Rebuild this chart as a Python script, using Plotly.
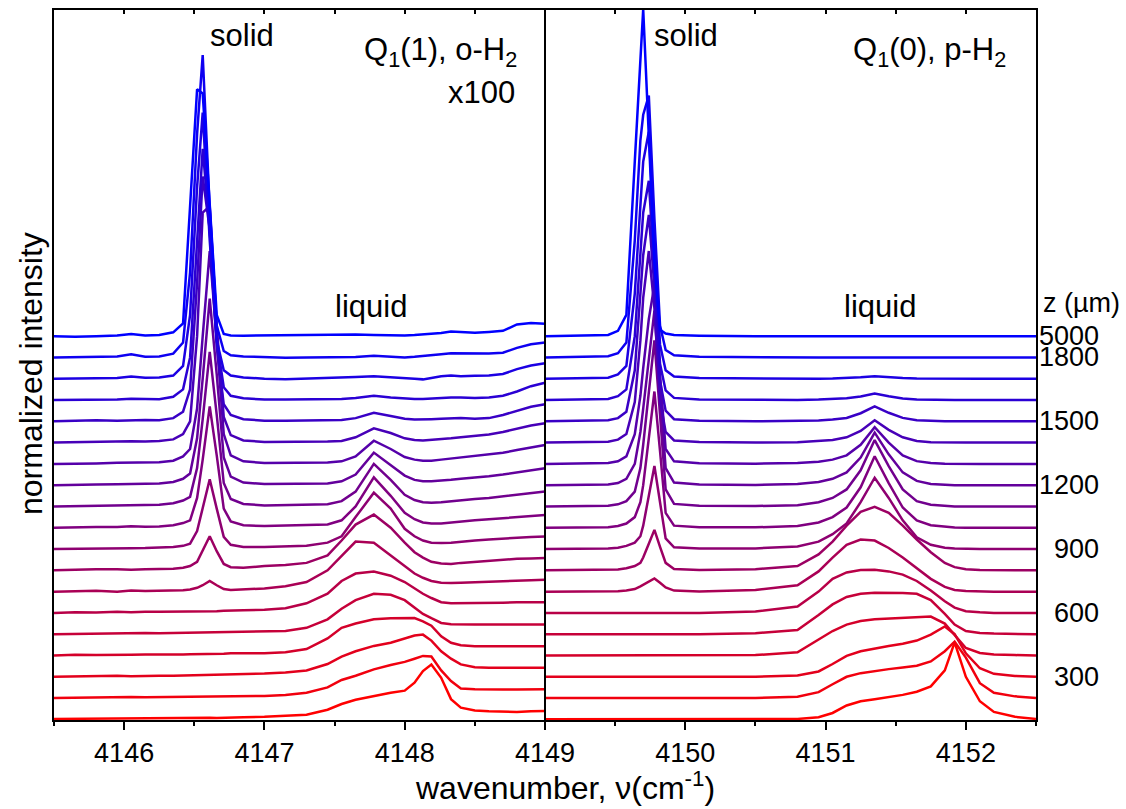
import plotly.graph_objects as go

# ---------------- data ----------------
Z_UM = [100, 200, 300, 400, 500, 600, 700, 800, 900, 1000, 1100, 1200,
        1300, 1400, 1500, 1600, 1700, 1800, 5000]
Z_LABELS = ["300", "600", "900", "1200", "1500", "1800", "5000"]
Z_LABEL_TRACE = [2, 5, 8, 11, 14, 17, 18]

# Q1(1) panel wavenumber grid (cm-1)
X_LEFT = [4145.50, 4145.65, 4145.80, 4145.95, 4146.05, 4146.15, 4146.25,
          4146.35, 4146.42, 4146.47, 4146.52, 4146.56, 4146.61, 4146.66, 4146.71, 4146.76, 4146.85,
          4147.00, 4147.15, 4147.30, 4147.45, 4147.55, 4147.65, 4147.78, 4147.90, 4148.00,
          4148.07, 4148.13, 4148.19, 4148.26, 4148.33, 4148.40, 4148.50, 4148.60, 4148.70,
          4148.80, 4148.90, 4149.00]
# Q1(0) panel wavenumber grid (cm-1)
X_RIGHT = [4149.00, 4149.45, 4149.52, 4149.58, 4149.64, 4149.68, 4149.70, 4149.74, 4149.78,
           4149.82, 4149.86, 4149.92, 4150.10,
           4150.50, 4150.80, 4150.95, 4151.05, 4151.15, 4151.25, 4151.35, 4151.45, 4151.55,
           4151.65, 4151.75, 4151.85, 4151.92, 4152.00, 4152.10, 4152.20, 4152.35, 4152.50]

# normalized intensity (in units of the vertical trace spacing), one list per depth z
L100 = [0.02, 0.03, 0.03, 0.04, 0.05, 0.05, 0.05, 0.05, 0.05, 0.06, 0.06, 0.07, 0.07, 0.06, 0.08, 0.08, 0.1,
        0.12, 0.16, 0.22, 0.45, 0.72, 0.92, 1.1, 1.25, 1.35, 1.72, 2.27, 2.58, 1.95, 0.95, 0.55, 0.42, 0.38, 0.35, 0.35, 0.38, 0.39]
L200 = [0.0, 0.02, 0.03, 0.03, 0.05, 0.04, 0.05, 0.05, 0.05, 0.05, 0.06, 0.06, 0.07, 0.07, 0.08, 0.08, 0.08,
        0.1, 0.15, 0.25, 0.5, 0.85, 1.05, 1.35, 1.55, 1.7, 1.85, 1.98, 1.95, 1.3, 0.8, 0.45, 0.42, 0.4, 0.4, 0.4, 0.41, 0.41]
L300 = [0.0, 0.02, 0.03, 0.05, 0.03, 0.05, 0.05, 0.05, 0.06, 0.06, 0.07, 0.07, 0.08, 0.08, 0.1, 0.1, 0.12,
        0.15, 0.2, 0.3, 0.6, 0.95, 1.2, 1.45, 1.6, 1.8, 1.94, 1.98, 1.7, 1.2, 0.85, 0.58, 0.45, 0.42, 0.42, 0.42, 0.42, 0.42]
L400 = [0.0, 0.03, 0.02, 0.05, 0.04, 0.05, 0.04, 0.05, 0.05, 0.06, 0.06, 0.07, 0.07, 0.08, 0.08, 0.1, 0.1,
        0.1, 0.15, 0.3, 0.8, 1.3, 1.5, 1.7, 1.75, 1.76, 1.76, 1.6, 1.4, 0.9, 0.6, 0.48, 0.44, 0.44, 0.44, 0.44, 0.44, 0.44]
L500 = [0.0, 0.02, 0.04, 0.03, 0.05, 0.06, 0.05, 0.06, 0.05, 0.06, 0.07, 0.07, 0.08, 0.08, 0.09, 0.1, 0.1,
        0.1, 0.15, 0.3, 0.7, 1.2, 1.6, 1.9, 1.85, 1.6, 1.25, 0.95, 0.75, 0.53, 0.47, 0.45, 0.45, 0.45, 0.45, 0.45, 0.45, 0.45]
L600 = [0.0, 0.03, 0.02, 0.05, 0.03, 0.06, 0.05, 0.05, 0.06, 0.07, 0.08, 0.08, 0.08, 0.08, 0.1, 0.1, 0.12,
        0.15, 0.22, 0.45, 0.9, 1.5, 1.85, 1.94, 1.75, 1.45, 1.15, 0.9, 0.7, 0.5, 0.45, 0.45, 0.45, 0.47, 0.48, 0.5, 0.5, 0.5]
L700 = [0.0, 0.02, 0.04, 0.0, 0.05, 0.03, 0.04, 0.05, 0.06, 0.1, 0.18, 0.3, 0.5, 0.3, 0.12, 0.08, 0.1,
        0.15, 0.25, 0.45, 1.0, 1.7, 2.35, 2.3, 1.7, 1.2, 0.85, 0.65, 0.5, 0.42, 0.4, 0.42, 0.45, 0.48, 0.5, 0.52, 0.54, 0.56]
L800 = [0.0, 0.03, 0.05, 0.05, 0.03, 0.05, 0.06, 0.08, 0.12, 0.2, 0.4, 0.9, 1.6, 0.9, 0.3, 0.15, 0.12,
        0.2, 0.25, 0.35, 0.7, 1.4, 2.15, 2.62, 2.0, 1.3, 0.85, 0.6, 0.4, 0.32, 0.3, 0.35, 0.4, 0.45, 0.5, 0.54, 0.56, 0.58]
L900 = [0.0, 0.02, 0.04, 0.05, 0.04, 0.05, 0.07, 0.1, 0.15, 0.25, 0.84, 1.9, 3.28, 1.9, 0.57, 0.2, 0.1,
        0.1, 0.12, 0.15, 0.3, 0.6, 1.5, 2.65, 1.9, 0.95, 0.6, 0.4, 0.3, 0.28, 0.3, 0.35, 0.4, 0.45, 0.5, 0.54, 0.57, 0.59]
L1000 = [0.0, 0.0, 0.03, 0.04, 0.07, 0.05, 0.06, 0.12, 0.22, 0.35, 1.4, 3.2, 5.7, 3.4, 0.9, 0.3, 0.12,
         0.08, 0.1, 0.12, 0.15, 0.35, 1.0, 2.37, 1.5, 0.7, 0.4, 0.25, 0.2, 0.2, 0.25, 0.3, 0.35, 0.4, 0.45, 0.5, 0.55, 0.6]
L1100 = [0.0, 0.02, 0.03, 0.05, 0.06, 0.06, 0.08, 0.15, 0.28, 0.45, 1.8, 4.1, 7.26, 4.3, 1.1, 0.35, 0.12,
         0.05, 0.07, 0.1, 0.1, 0.25, 0.7, 2.0, 1.25, 0.55, 0.3, 0.2, 0.18, 0.2, 0.25, 0.3, 0.35, 0.4, 0.48, 0.55, 0.62, 0.7]
L1200 = [0.0, 0.0, 0.03, 0.04, 0.05, 0.06, 0.08, 0.15, 0.3, 0.55, 2.2, 5.0, 8.76, 5.2, 1.3, 0.4, 0.12,
         0.05, 0.05, 0.07, 0.08, 0.18, 0.5, 1.53, 0.95, 0.45, 0.25, 0.18, 0.18, 0.2, 0.25, 0.3, 0.35, 0.42, 0.5, 0.6, 0.7, 0.8]
L1300 = [0.0, 0.0, 0.02, 0.05, 0.06, 0.05, 0.08, 0.15, 0.35, 0.7, 2.6, 6.0, 10.0, 5.8, 1.4, 0.4, 0.12,
         0.04, 0.05, 0.06, 0.07, 0.12, 0.35, 1.09, 0.7, 0.32, 0.2, 0.15, 0.15, 0.2, 0.25, 0.3, 0.35, 0.42, 0.52, 0.65, 0.78, 0.89]
L1400 = [0.0, 0.02, 0.02, 0.04, 0.06, 0.05, 0.07, 0.15, 0.4, 1.0, 5.0, 10.8, 11.1, 5.5, 1.2, 0.35, 0.1,
         0.03, 0.03, 0.04, 0.05, 0.08, 0.25, 0.67, 0.45, 0.2, 0.12, 0.1, 0.12, 0.15, 0.2, 0.25, 0.3, 0.38, 0.5, 0.65, 0.8, 0.91]
L1500 = [0.0, 0.02, 0.05, 0.03, 0.06, 0.06, 0.05, 0.15, 0.45, 1.5, 6.5, 11.5, 9.0, 3.5, 0.8, 0.3, 0.1,
         0.03, 0.03, 0.04, 0.04, 0.06, 0.15, 0.4, 0.25, 0.12, 0.08, 0.08, 0.1, 0.12, 0.15, 0.15, 0.12, 0.15, 0.3, 0.5, 0.68, 0.8]
L1600 = [0.0, 0.0, 0.0, 0.03, 0.06, 0.04, 0.04, 0.15, 0.5, 2.0, 7.5, 11.8, 8.0, 2.8, 0.6, 0.2, 0.08,
         0.02, 0.02, 0.03, 0.03, 0.05, 0.1, 0.2, 0.12, 0.06, 0.05, 0.05, 0.08, 0.1, 0.12, 0.12, 0.1, 0.12, 0.2, 0.4, 0.65, 0.81]
L1700 = [0.0, 0.02, 0.03, 0.04, 0.1, 0.05, 0.06, 0.15, 0.6, 3.0, 9.0, 12.5, 6.5, 1.8, 0.4, 0.15, 0.06,
         0.0, -0.02, 0.0, 0.02, 0.05, 0.08, 0.12, 0.08, 0.05, 0.0, -0.03, 0.05, 0.12, 0.15, 0.12, 0.14, 0.15, 0.22, 0.45, 0.62, 0.73]
L1800 = [0.0, 0.02, 0.03, 0.05, 0.15, 0.03, 0.05, 0.18, 0.7, 4.0, 10.5, 14.2, 7.0, 1.5, 0.3, 0.1, 0.05,
         0.0, -0.02, 0.0, 0.02, 0.02, 0.02, 0.08, 0.02, 0.0, 0.03, 0.06, 0.1, 0.15, 0.2, 0.2, 0.18, 0.18, 0.22, 0.45, 0.62, 0.7]
L5000 = [0.0, -0.03, 0.0, 0.03, 0.1, 0.03, 0.05, 0.18, 0.6, 6.0, 11.6, 11.4, 6.0, 1.0, 0.1, 0.03, 0.02,
         0.03, 0.03, 0.03, 0.05, 0.05, 0.08, 0.05, 0.03, 0.03, 0.05, 0.08, 0.1, 0.15, 0.22, 0.2, 0.16, 0.2, 0.25, 0.55, 0.62, 0.58]

R100 = [0, 0, 0, 0, 0, 0, 0, 0, 0, 0, 0, 0, 0,
        0.0, 0.02, 0.1, 0.3, 0.65, 0.85, 0.95, 1.05, 1.15, 1.3, 1.55, 2.3, 3.62, 2.0, 0.85, 0.35, 0.12, 0.02]
R200 = [0, 0, 0, 0, 0, 0, 0, 0, 0, 0, 0, 0, 0,
        0.0, 0.06, 0.28, 0.65, 1.0, 1.17, 1.28, 1.36, 1.44, 1.52, 1.72, 2.2, 2.65, 1.9, 0.7, 0.25, 0.08, 0.0]
R300 = [0, 0, 0, 0, 0, 0, 0, 0, 0, 0, 0, 0, 0,
        0.0, 0.06, 0.25, 0.6, 0.98, 1.2, 1.33, 1.45, 1.55, 1.7, 1.98, 2.36, 2.0, 1.1, 0.4, 0.14, 0.04, 0.0]
R400 = [0, 0, 0, 0, 0, 0, 0, 0, 0, 0, 0, 0, 0,
        0.02, 0.15, 0.75, 1.15, 1.45, 1.62, 1.7, 1.74, 1.77, 1.8, 1.83, 1.5, 0.95, 0.35, 0.12, 0.05, 0.02, 0.0]
R500 = [0, 0, 0, 0, 0, 0, 0, 0, 0, 0, 0, 0, 0,
        0.05, 0.2, 0.9, 1.4, 1.75, 1.9, 1.95, 1.95, 1.93, 1.9, 1.6, 0.95, 0.45, 0.15, 0.06, 0.03, 0.0, 0.0]
R600 = [0, 0, 0, 0, 0, 0, 0, 0, 0, 0, 0, 0, 0,
        0.07, 0.3, 1.0, 1.6, 1.9, 2.02, 2.03, 1.95, 1.8, 1.5, 1.05, 0.55, 0.25, 0.08, 0.03, 0.0, 0.0, 0.0]
R700 = [0, 0.01, 0.02, 0.05, 0.12, 0.25, 0.32, 0.47, 0.62, 0.42, 0.2, 0.05, 0.01,
        0.08, 0.3, 0.95, 1.6, 2.2, 2.45, 2.4, 2.05, 1.6, 1.1, 0.6, 0.22, 0.08, 0.03, 0.0, 0.0, 0.0, 0.0]
R800 = [0, 0.01, 0.04, 0.1, 0.2, 0.35, 0.6, 1.25, 1.9, 1.1, 0.35, 0.06, 0.02,
        0.05, 0.2, 0.75, 1.35, 2.1, 2.75, 2.98, 2.7, 2.1, 1.45, 0.85, 0.35, 0.15, 0.05, 0.02, 0.0, 0.0, 0.0]
R900 = [0, 0.02, 0.06, 0.15, 0.3, 0.6, 1.1, 2.5, 3.9, 2.2, 0.5, 0.08, 0.02,
        0.03, 0.12, 0.35, 0.7, 1.2, 2.2, 3.35, 2.4, 1.35, 0.55, 0.2, 0.06, 0.02, 0, 0, 0, 0, 0]
R1000 = [0, 0.02, 0.08, 0.2, 0.5, 1.2, 2.0, 4.2, 6.4, 3.6, 0.7, 0.1, 0.02,
         0.02, 0.08, 0.25, 0.5, 0.95, 1.9, 3.36, 2.1, 0.95, 0.35, 0.12, 0.04, 0.01, 0, 0, 0, 0, 0]
R1100 = [0, 0.03, 0.1, 0.25, 0.7, 1.8, 2.9, 5.3, 7.8, 4.3, 0.8, 0.12, 0.03,
         0.02, 0.06, 0.2, 0.4, 0.8, 1.7, 3.12, 1.9, 0.8, 0.25, 0.08, 0.03, 0, 0, 0, 0, 0, 0]
R1200 = [0, 0.03, 0.1, 0.3, 1.0, 2.5, 3.6, 6.0, 8.2, 4.4, 0.8, 0.12, 0.03,
         0.01, 0.05, 0.15, 0.3, 0.6, 1.3, 2.47, 1.45, 0.6, 0.2, 0.06, 0.02, 0, 0, 0, 0, 0, 0]
R1300 = [0, 0.04, 0.12, 0.35, 1.4, 3.2, 4.5, 6.8, 8.4, 4.2, 0.7, 0.12, 0.03,
         0.01, 0.04, 0.1, 0.2, 0.4, 0.9, 1.72, 1.0, 0.4, 0.13, 0.04, 0.01, 0, 0, 0, 0, 0, 0]
R1400 = [0, 0.04, 0.14, 0.4, 1.9, 4.8, 6.8, 9.0, 6.3, 2.0, 0.5, 0.1, 0.03,
         0, 0.02, 0.06, 0.12, 0.25, 0.55, 1.05, 0.6, 0.25, 0.08, 0.02, 0, 0, 0, 0, 0, 0, 0]
R1500 = [0, 0.05, 0.15, 0.45, 2.4, 5.8, 7.8, 9.7, 6.3, 1.9, 0.5, 0.1, 0.03,
         0, 0.01, 0.04, 0.08, 0.16, 0.38, 0.7, 0.4, 0.16, 0.05, 0.01, 0, 0, 0, 0, 0, 0, 0]
R1600 = [0, 0.05, 0.18, 0.5, 3.0, 7.0, 8.8, 10.3, 6.2, 1.7, 0.45, 0.1, 0.03,
         0, 0, 0.02, 0.04, 0.08, 0.17, 0.31, 0.18, 0.07, 0.02, 0, 0, 0, 0, 0, 0, 0, 0]
R1700 = [0, 0.05, 0.2, 0.6, 4.0, 8.5, 10.2, 11.6, 6.5, 1.6, 0.4, 0.1, 0.03,
         0, 0, 0, 0.01, 0.03, 0.07, 0.12, 0.07, 0.03, 0.01, 0, 0, 0, 0, 0, 0, 0, 0]
R1800 = [0, 0.06, 0.2, 0.7, 5.5, 10.2, 11.4, 12.3, 6.5, 1.5, 0.35, 0.1, 0.03,
         0, 0, 0, 0, 0, 0, 0, 0, 0, 0, 0, 0, 0, 0, 0, 0, 0, 0]
R5000 = [0, 0.06, 0.25, 1.0, 8.2, 13.0, 15.35, 9.4, 3.4, 0.3, 0.12, 0.05, 0.02,
         0, 0, 0, 0, 0, 0, 0, 0, 0, 0, 0, 0, 0, 0, 0, 0, 0, 0]

LEFT_SERIES = [L100, L200, L300, L400, L500, L600, L700, L800, L900, L1000,
               L1100, L1200, L1300, L1400, L1500, L1600, L1700, L1800, L5000]
RIGHT_SERIES = [R100, R200, R300, R400, R500, R600, R700, R800, R900, R1000,
                R1100, R1200, R1300, R1400, R1500, R1600, R1700, R1800, R5000]

# ---------------- figure ----------------
W, H = 1126, 809
ML, MR, MT, MB = 54, 90, 8, 89
PW, PH = W - ML - MR, H - MT - MB
FONT = "Liberation Sans, Arial, sans-serif"
Y0, Y1 = -0.03, 33.32


def px(xp):
    return (xp - ML) / PW


def py(yp):
    return (H - MB - yp) / PH


n = len(Z_UM)
fig = go.Figure()
for i in range(n):
    t = i / (n - 1)
    col = "rgb(%d,0,%d)" % (round(255 * (1 - t)), round(255 * t))
    fig.add_trace(go.Scatter(x=X_LEFT, y=[i + v for v in LEFT_SERIES[i]], mode="lines",
                             line=dict(color=col, width=2.5), showlegend=False,
                             name="z=%d µm" % Z_UM[i], hoverinfo="skip"))
    fig.add_trace(go.Scatter(x=X_RIGHT, y=[i + v for v in RIGHT_SERIES[i]], mode="lines",
                             line=dict(color=col, width=2.5), showlegend=False,
                             name="z=%d µm" % Z_UM[i], hoverinfo="skip"))

# invisible trace for the top-tick axis
fig.add_trace(go.Scatter(x=[4145.5, 4152.5], y=[Y0, Y0], xaxis="x2", mode="lines",
                         line=dict(width=0), showlegend=False, hoverinfo="skip"))

ann = []


def A(text, x, y, size, xanchor="center", yanchor="middle", **kw):
    ann.append(dict(text=text, x=px(x), y=py(y), xref="paper", yref="paper",
                    xanchor=xanchor, yanchor=yanchor, showarrow=False,
                    font=dict(family=FONT, size=size, color="black"), **kw))


A("solid", 242, 34, 31)
A("solid", 686, 34, 31)
A("Q<sub>1</sub>(1), o-H<sub>2</sub>", 519, 50, 31, xanchor="right")
A("x100", 517, 91, 31, xanchor="right")
A("Q<sub>1</sub>(0), p-H<sub>2</sub>", 1008, 50, 31, xanchor="right")
A("liquid", 371, 305, 31)
A("liquid", 880, 305, 31)
A("z (µm)", 1041, 302, 27, xanchor="left")
A("normalized intensity", 31, 373, 32, textangle=-90)
A("wavenumber, ν(cm<sup>-1</sup>)", 565, 786, 32)

for lab, k in zip(Z_LABELS, Z_LABEL_TRACE):
    ann.append(dict(text=lab, x=px(1101), y=k, xref="paper", yref="y",
                    xanchor="right", yanchor="middle", showarrow=False,
                    font=dict(family=FONT, size=27, color="black")))

fig.update_layout(
    width=W, height=H,
    margin=dict(l=ML, r=MR, t=MT, b=MB, pad=0),
    paper_bgcolor="white", plot_bgcolor="white",
    annotations=ann,
    xaxis=dict(range=[4145.5, 4152.5], tickvals=[4146, 4147, 4148, 4149, 4150, 4151, 4152],
               ticktext=["4146", "4147", "4148", "4149", "4150", "4151", "4152"],
               ticks="outside", ticklen=8, tickwidth=2, tickcolor="black",
               minor=dict(tickvals=[4145.5, 4146.5, 4147.5, 4148.5, 4149.5, 4150.5, 4151.5, 4152.5],
                          ticks="outside", ticklen=4, tickwidth=2, tickcolor="black"),
               showline=True, linewidth=2, linecolor="black", mirror=True,
               showgrid=False, zeroline=False, layer="below traces",
               tickfont=dict(family=FONT, size=27, color="black")),
    xaxis2=dict(range=[4145.5, 4152.5], overlaying="x", side="top", anchor="y",
                tickvals=[4146, 4146.5, 4147, 4147.5, 4148, 4148.5, 4149, 4149.5, 4150,
                          4150.5, 4151, 4151.5, 4152],
                ticks="inside", ticklen=4, tickwidth=1.5, tickcolor="black",
                showticklabels=False, showline=False, showgrid=False, zeroline=False),
    yaxis=dict(range=[Y0, Y1], showticklabels=False, ticks="", showline=True,
               linewidth=2, linecolor="black", mirror=True, showgrid=False,
               zeroline=False, layer="below traces"),
    shapes=[dict(type="line", xref="x", yref="paper", x0=4149, x1=4149, y0=0, y1=1,
                 line=dict(color="black", width=2))],
)

fig.write_html("out.html")
